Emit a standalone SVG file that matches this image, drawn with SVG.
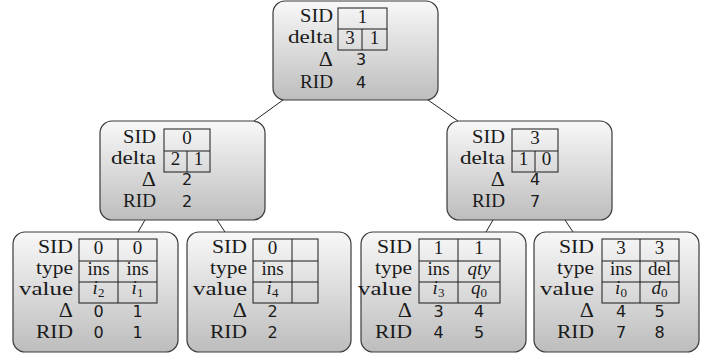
<svg xmlns="http://www.w3.org/2000/svg" width="709" height="354" viewBox="0 0 709 354">
<defs>
<linearGradient id="g" x1="0" y1="0" x2="0" y2="1">
<stop offset="0" stop-color="#f8f8f8"/>
<stop offset="1" stop-color="#bdbdbd"/>
</linearGradient>
<style>
.box{fill:url(#g);stroke:#3a3a3a;stroke-width:1.2}
.lbl{font-family:"Liberation Serif",serif;font-size:19.5px;text-anchor:end;fill:#1a1a1a}
.dl{font-size:22px}
.cell{font-family:"Liberation Serif",serif;font-size:19px;text-anchor:middle;fill:#1a1a1a}
.it{font-style:italic}
.sub{font-size:13px;font-style:normal}
.num{font-family:"DejaVu Sans",sans-serif;font-size:16px;text-anchor:middle;fill:#1a1a1a}
.tbl{fill:none;stroke:#1a1a1a;stroke-width:1}
.edge{stroke:#222;stroke-width:1;fill:none}
</style>
</defs>
<rect width="709" height="354" fill="#fff"/>
<g id="connectors">
<line class="edge" x1="283" y1="100" x2="254" y2="121"/>
<line class="edge" x1="428" y1="100" x2="458" y2="121"/>
<line class="edge" x1="145" y1="220" x2="138" y2="232"/>
<line class="edge" x1="217" y1="220" x2="225" y2="232"/>
<line class="edge" x1="493" y1="220" x2="486" y2="232"/>
<line class="edge" x1="565" y1="220" x2="573" y2="232"/>
</g>
<g id="root">
<rect class="box" x="273" y="1" width="165" height="99" rx="12"/>
<text class="lbl" x="333" y="22" textLength="33" lengthAdjust="spacingAndGlyphs">SID</text>
<text class="lbl" x="333" y="43" textLength="45" lengthAdjust="spacingAndGlyphs">delta</text>
<text class="lbl dl" x="333" y="66">Δ</text>
<text class="lbl" x="333" y="88" textLength="33" lengthAdjust="spacingAndGlyphs">RID</text>
<rect class="tbl" x="338" y="8" width="49" height="42"/>
<path class="tbl" d="M338 29H387M362 29V50"/>
<text class="cell" x="362.5" y="23">1</text>
<text class="cell" x="350" y="44">3</text>
<text class="cell" x="374.5" y="44">1</text>
<text class="num" x="361" y="65">3</text>
<text class="num" x="361" y="88">4</text>
</g>
<g id="mid-left">
<rect class="box" x="100" y="121" width="165" height="99" rx="12"/>
<text class="lbl" x="156" y="143" textLength="33" lengthAdjust="spacingAndGlyphs">SID</text>
<text class="lbl" x="156" y="164" textLength="45" lengthAdjust="spacingAndGlyphs">delta</text>
<text class="lbl dl" x="156" y="186">Δ</text>
<text class="lbl" x="156" y="207" textLength="33" lengthAdjust="spacingAndGlyphs">RID</text>
<rect class="tbl" x="164" y="129" width="46" height="43"/>
<path class="tbl" d="M164 151H210M187 151V172"/>
<text class="cell" x="187" y="144">0</text>
<text class="cell" x="175.5" y="165">2</text>
<text class="cell" x="198.5" y="165">1</text>
<text class="num" x="187" y="185">2</text>
<text class="num" x="187" y="207">2</text>
</g>
<g id="mid-right">
<rect class="box" x="447" y="121" width="165" height="99" rx="12"/>
<text class="lbl" x="505" y="143" textLength="33" lengthAdjust="spacingAndGlyphs">SID</text>
<text class="lbl" x="505" y="164" textLength="45" lengthAdjust="spacingAndGlyphs">delta</text>
<text class="lbl dl" x="505" y="186">Δ</text>
<text class="lbl" x="505" y="207" textLength="33" lengthAdjust="spacingAndGlyphs">RID</text>
<rect class="tbl" x="512" y="129" width="46" height="43"/>
<path class="tbl" d="M512 151H558M535 151V172"/>
<text class="cell" x="535" y="144">3</text>
<text class="cell" x="523.5" y="165">1</text>
<text class="cell" x="546.5" y="165">0</text>
<text class="num" x="535" y="185">4</text>
<text class="num" x="535" y="207">7</text>
</g>
<g id="leaf1">
<rect class="box" x="13" y="232" width="165" height="120" rx="12"/>
<text class="lbl" x="73" y="253" textLength="35" lengthAdjust="spacingAndGlyphs">SID</text>
<text class="lbl" x="73" y="274" textLength="37" lengthAdjust="spacingAndGlyphs">type</text>
<text class="lbl" x="73" y="295" textLength="54" lengthAdjust="spacingAndGlyphs">value</text>
<text class="lbl dl" x="73" y="317">Δ</text>
<text class="lbl" x="73" y="338" textLength="37" lengthAdjust="spacingAndGlyphs">RID</text>
<rect class="tbl" x="79" y="239" width="78" height="64"/>
<path class="tbl" d="M79 261H157M79 282H157M118 239V303"/>
<text class="cell" x="98.5" y="254">0</text>
<text class="cell" x="137.5" y="254">0</text>
<text class="cell" x="98.5" y="275">ins</text>
<text class="cell" x="137.5" y="275">ins</text>
<text class="cell" x="98.5" y="294"><tspan class="it">i</tspan><tspan class="sub" dy="3">2</tspan></text>
<text class="cell" x="137.5" y="294"><tspan class="it">i</tspan><tspan class="sub" dy="3">1</tspan></text>
<text class="num" x="98.5" y="317">0</text>
<text class="num" x="137.5" y="317">1</text>
<text class="num" x="98.5" y="338">0</text>
<text class="num" x="137.5" y="338">1</text>
</g>
<g id="leaf2">
<rect class="box" x="187" y="232" width="164" height="120" rx="12"/>
<text class="lbl" x="247" y="253" textLength="35" lengthAdjust="spacingAndGlyphs">SID</text>
<text class="lbl" x="247" y="274" textLength="37" lengthAdjust="spacingAndGlyphs">type</text>
<text class="lbl" x="247" y="295" textLength="54" lengthAdjust="spacingAndGlyphs">value</text>
<text class="lbl dl" x="247" y="317">Δ</text>
<text class="lbl" x="247" y="338" textLength="37" lengthAdjust="spacingAndGlyphs">RID</text>
<rect class="tbl" x="253" y="239" width="65" height="64"/>
<path class="tbl" d="M253 261H318M253 282H318M292 239V303"/>
<text class="cell" x="272.5" y="254">0</text>
<text class="cell" x="272.5" y="275">ins</text>
<text class="cell" x="272.5" y="294"><tspan class="it">i</tspan><tspan class="sub" dy="3">4</tspan></text>
<text class="num" x="272.5" y="317">2</text>
<text class="num" x="272.5" y="338">2</text>
</g>
<g id="leaf3">
<rect class="box" x="361" y="232" width="165" height="120" rx="12"/>
<text class="lbl" x="412" y="253" textLength="35" lengthAdjust="spacingAndGlyphs">SID</text>
<text class="lbl" x="412" y="274" textLength="37" lengthAdjust="spacingAndGlyphs">type</text>
<text class="lbl" x="412" y="295" textLength="54" lengthAdjust="spacingAndGlyphs">value</text>
<text class="lbl dl" x="412" y="317">Δ</text>
<text class="lbl" x="412" y="338" textLength="37" lengthAdjust="spacingAndGlyphs">RID</text>
<rect class="tbl" x="419" y="239" width="81" height="64"/>
<path class="tbl" d="M419 261H500M419 282H500M458 239V303"/>
<text class="cell" x="438.5" y="254">1</text>
<text class="cell" x="479" y="254">1</text>
<text class="cell" x="438.5" y="275">ins</text>
<text class="cell it" x="479" y="275">qty</text>
<text class="cell" x="438.5" y="294"><tspan class="it">i</tspan><tspan class="sub" dy="3">3</tspan></text>
<text class="cell" x="479" y="294"><tspan class="it">q</tspan><tspan class="sub" dy="3">0</tspan></text>
<text class="num" x="438.5" y="317">3</text>
<text class="num" x="479" y="317">4</text>
<text class="num" x="438.5" y="338">4</text>
<text class="num" x="479" y="338">5</text>
</g>
<g id="leaf4">
<rect class="box" x="534" y="232" width="165" height="120" rx="12"/>
<text class="lbl" x="594" y="253" textLength="35" lengthAdjust="spacingAndGlyphs">SID</text>
<text class="lbl" x="594" y="274" textLength="37" lengthAdjust="spacingAndGlyphs">type</text>
<text class="lbl" x="594" y="295" textLength="54" lengthAdjust="spacingAndGlyphs">value</text>
<text class="lbl dl" x="594" y="317">Δ</text>
<text class="lbl" x="594" y="338" textLength="37" lengthAdjust="spacingAndGlyphs">RID</text>
<rect class="tbl" x="602" y="239" width="77" height="64"/>
<path class="tbl" d="M602 261H679M602 282H679M640 239V303"/>
<text class="cell" x="621" y="254">3</text>
<text class="cell" x="659.5" y="254">3</text>
<text class="cell" x="621" y="275">ins</text>
<text class="cell" x="659.5" y="275">del</text>
<text class="cell" x="621" y="294"><tspan class="it">i</tspan><tspan class="sub" dy="3">0</tspan></text>
<text class="cell" x="659.5" y="294"><tspan class="it">d</tspan><tspan class="sub" dy="3">0</tspan></text>
<text class="num" x="621" y="317">4</text>
<text class="num" x="659.5" y="317">5</text>
<text class="num" x="621" y="338">7</text>
<text class="num" x="659.5" y="338">8</text>
</g>
</svg>
